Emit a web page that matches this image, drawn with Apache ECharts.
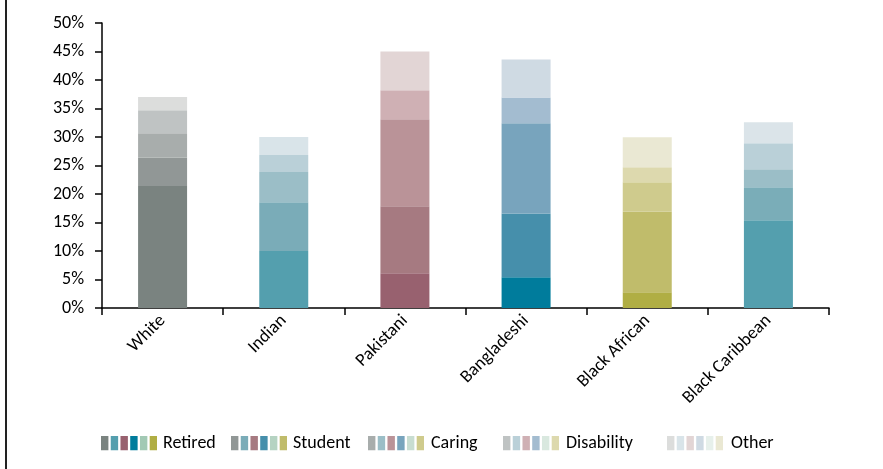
<!DOCTYPE html>
<html>
<head>
<meta charset="utf-8">
<script src="https://cdn.jsdelivr.net/npm/echarts@6/dist/echarts.min.js"></script>
<style>
html,body{margin:0;padding:0;background:#fff;}
#wrap{position:relative;width:883px;height:469px;}
#frame{position:absolute;left:5px;top:0;width:2px;height:469px;background:#222;}
#chart{position:absolute;left:0;top:0;width:883px;height:469px;}
</style>
</head>
<body>
<div id="wrap"><div id="chart"></div><div id="frame"></div></div>
<script>
// ---- data ----
const categories = ['White', 'Indian', 'Pakistani', 'Bangladeshi', 'Black African', 'Black Caribbean'];
const seriesNames = ['Retired', 'Student', 'Caring', 'Disability', 'Other'];
const retired    = [21.4, 10.0, 6.1, 5.4, 2.75, 15.4];
const student    = [5.0, 8.55, 11.75, 11.2, 14.2, 5.8];
const caring     = [4.25, 5.3, 15.25, 15.8, 5.1, 3.15];
const disability = [4.05, 3.0, 5.1, 4.55, 2.65, 4.55];
const other      = [2.3, 3.15, 6.8, 6.65, 5.25, 3.7];
const yTicks = [0, 5, 10, 15, 20, 25, 30, 35, 40, 45, 50];

// ---- styles ----
const barColors = [
  ['#7a8380', '#919796', '#a8adac', '#bfc3c3', '#dcdddc'],
  ['#549fae', '#7aacb8', '#9bbec7', '#bad0d8', '#d9e4e9'],
  ['#98616f', '#a67a81', '#ba9398', '#cfb0b4', '#e2d5d5'],
  ['#007c9c', '#468fab', '#78a4bd', '#a3bcd0', '#cfdae3'],
  ['#b0ae44', '#c0bc6b', '#cfcb8d', '#ddd9ae', '#eae8d3'],
  ['#549fae', '#7aadb8', '#9bbec7', '#bad0d8', '#dbe4e9']
];
const legendColors = [
  ['#7a8380', '#549fae', '#98616f', '#007c9c', '#a2c9b4', '#b0ae44'],
  ['#919796', '#7aacb8', '#a67a81', '#468fab', '#b5d3c2', '#c0bc6b'],
  ['#a8adac', '#9bbec7', '#ba9398', '#78a4bd', '#c8ddd1', '#cfcb8d'],
  ['#bfc3c3', '#bad0d8', '#cfb0b4', '#a3bcd0', '#d9e8df', '#ddd9ae'],
  ['#dcdddc', '#d9e4e9', '#e2d5d5', '#cfdae3', '#e7f0eb', '#eae8d3']
];
const legendLeft = [101, 231, 368, 503, 667];
const legendTextPad = [1, 1, 2, 2, 3];
const FONT = "Carlito, Lato, sans-serif";

function iconFor(cols) {
  let s = '<svg xmlns="http://www.w3.org/2000/svg" width="56" height="15" viewBox="0 0 56 15">';
  cols.forEach((c, i) => { s += '<rect x="' + (i * 9.74).toFixed(2) + '" y="0" width="7.4" height="15" fill="' + c + '"/>'; });
  s += '</svg>';
  return 'image://data:image/svg+xml;charset=utf-8,' + encodeURIComponent(s);
}

const valuesBySeries = [retired, student, caring, disability, other];

const chart = echarts.init(document.getElementById('chart'), null, { renderer: 'canvas' });
chart.setOption({
  animation: false,
  backgroundColor: 'transparent',
  textStyle: { fontFamily: FONT },
  grid: { left: 102, right: 54, top: 23, bottom: 161 },
  legend: seriesNames.map((n, k) => ({
    data: [{ name: n, icon: iconFor(legendColors[k]) }],
    left: legendLeft[k], top: 434,
    itemWidth: 56, itemHeight: 15, itemGap: 0,
    padding: 0,
    selectedMode: false,
    textStyle: { color: '#000', fontSize: 18, fontFamily: FONT, padding: [0, 0, 0, legendTextPad[k]] }
  })),
  xAxis: {
    type: 'category',
    data: categories,
    boundaryGap: true,
    axisLine: { lineStyle: { color: '#000', width: 1.5 } },
    axisTick: { show: true, alignWithLabel: false, interval: 0, length: 7, lineStyle: { color: '#000', width: 1.5 } },
    axisLabel: { interval: 0, rotate: 45, margin: 10, color: '#000', fontSize: 18, fontFamily: FONT }
  },
  yAxis: {
    type: 'value',
    min: yTicks[0], max: yTicks[yTicks.length - 1], interval: yTicks[1] - yTicks[0],
    axisLine: { show: true, lineStyle: { color: '#000', width: 1.5 } },
    axisTick: { show: true, length: 7, lineStyle: { color: '#000', width: 1.5 } },
    splitLine: { show: false },
    axisLabel: { formatter: '{value}%', margin: 18, color: '#000', fontSize: 18, fontFamily: FONT }
  },
  series: seriesNames.map((n, k) => ({
    name: n,
    type: 'bar',
    stack: 'total',
    barWidth: 49,
    data: valuesBySeries[k].map((v, i) => ({ value: v, itemStyle: { color: barColors[i][k] } }))
  }))
});
</script>
</body>
</html>
